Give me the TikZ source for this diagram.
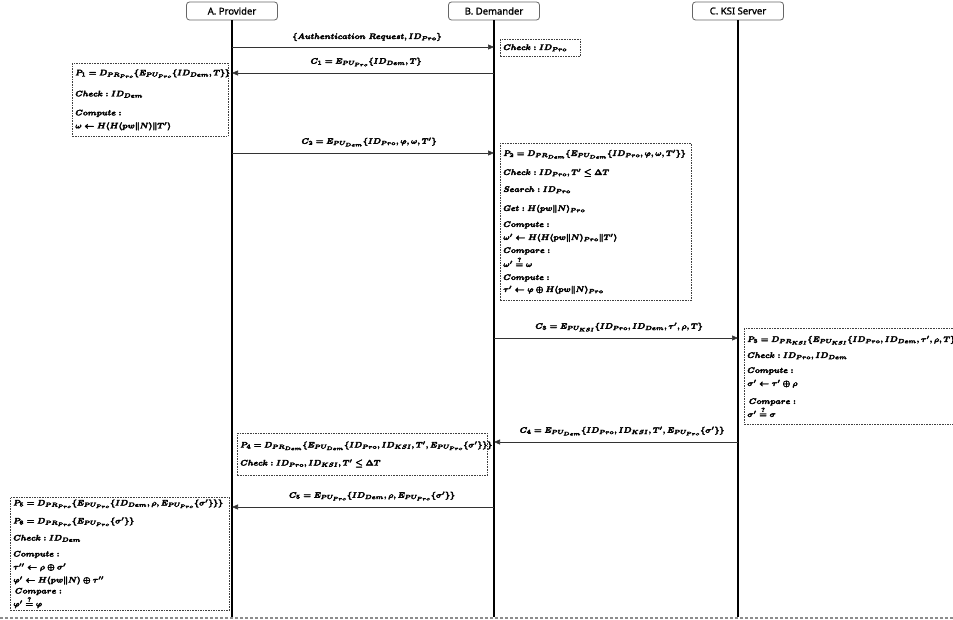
\documentclass[tikz,border=0pt]{standalone}
\usepackage{amsmath,amssymb}
\usepackage{fontspec}
\newfontfamily\hdrfont{Noto Sans}
\usetikzlibrary{arrows.meta}

% heavier glyphs: fill and stroke the text outlines
\newcommand{\heavytext}{\special{pdf:literal direct 2 Tr 0.3 w 0 G}}
\newcommand{\lighttext}{\special{pdf:literal direct 2 Tr 0.12 w 0 G}}
% fixed line pitch and no line breaks inside the step boxes
\newcommand{\stepfont}{\heavytext\fontsize{8.5}{13}\selectfont\boldmath\setlength{\lineskiplimit}{-20pt}\setlength{\lineskip}{0pt}\relpenalty=10000\binoppenalty=10000}

\tikzset{
  header/.style={draw=black!60, line width=0.8pt, rounded corners=3pt, fill=white,
    font=\lighttext\hdrfont\fontsize{9.5}{11}\selectfont, minimum width=91pt, minimum height=18pt, inner sep=2pt},
  life/.style={line width=1.1pt},
  msg/.style={draw=black!80, line width=0.6pt, -{Triangle[length=6pt,width=5pt]}},
  lbl/.style={font=\heavytext\fontsize{8.5}{11}\selectfont\boldmath, inner sep=1pt},
  proc/.style={draw=black!75, line width=0.7pt, dash pattern=on 1.6pt off 1pt,
    align=left, anchor=north west, inner xsep=3pt, inner ysep=2pt, font=\stepfont},
  sep/.style={draw=black!45, line width=1.4pt, dash pattern=on 3pt off 2pt}
}

\begin{document}
\begin{tikzpicture}[x=1pt, y=-1pt]
\clip (0,0) rectangle (953,620);

% participants
\node[header] (hA) at (232,11) {A. Provider};
\node[header] (hB) at (494,11) {B. Demander};
\node[header] (hC) at (738,11) {C. KSI Server};

% lifeline ends and bottom separator
\coordinate (eA) at (232,617);
\coordinate (eB) at (494,617);
\coordinate (eC) at (738,617);
\coordinate (s0) at (0,618);
\coordinate (s1) at (953,618);
\draw[sep] (s0) -- (s1);
\draw[life] (hA.south) -- (eA);
\draw[life] (hB.south) -- (eB);
\draw[life] (hC.south) -- (eC);

% message end points on the lifelines
\coordinate (m1a) at (232,47);  \coordinate (m1b) at (494,47);
\coordinate (m2a) at (494,73);  \coordinate (m2b) at (232,73);
\coordinate (m3a) at (232,153); \coordinate (m3b) at (494,153);
\coordinate (m4a) at (494,338); \coordinate (m4b) at (738,338);
\coordinate (m5a) at (738,442); \coordinate (m5b) at (494,442);
\coordinate (m6a) at (494,507); \coordinate (m6b) at (232,507);

\draw[msg] (m1a) -- (m1b);
\draw[msg] (m2a) -- (m2b);
\draw[msg] (m3a) -- (m3b);
\draw[msg] (m4a) -- (m4b);
\draw[msg] (m5a) -- (m5b);
\draw[msg] (m6a) -- (m6b);

% message labels
\node[lbl] (l1) at (367,37) {$\{Authentication\ Request, ID_{Pro}\}$};
\node[lbl] (l2) at (366,62) {$C_1 = E_{PU_{Pro}}\{ID_{Dem}, T\}$};
\node[lbl] (l3) at (369,142) {$C_2 = E_{PU_{Dem}}\{ID_{Pro}, \varphi, \omega, T'\}$};
\node[lbl] (l4) at (619,327) {$C_3 = E_{PU_{KSI}}\{ID_{Pro}, ID_{Dem}, \tau', \rho, T\}$};
\node[lbl] (l5) at (622,431) {$C_4 = E_{PU_{Dem}}\{ID_{Pro}, ID_{KSI}, T', E_{PU_{Pro}}\{\sigma'\}\}$};
\node[lbl] (l6) at (372,496) {$C_5 = E_{PU_{Pro}}\{ID_{Dem}, \rho, E_{PU_{Pro}}\{\sigma'\}\}$};

% processing steps
\node[proc, minimum height=17pt, text width=74pt] (chk) at (500,39) {$Check : ID_{Pro}$};

\node[proc, minimum height=73pt, text width=150pt] (p1) at (72,63)
{$P_1 = D_{PR_{Pro}}\{E_{PU_{Pro}}\{ID_{Dem}, T\}\}$\\[8pt]
 $Check : ID_{Dem}$\\[6pt]
 $Compute :$\\
 $\omega \leftarrow H(H(pw\|N)\|T')$};

\node[proc, minimum height=157pt, text width=185pt] (p2) at (500,143)
{$P_2 = D_{PR_{Dem}}\{E_{PU_{Dem}}\{ID_{Pro}, \varphi, \omega, T'\}\}$\\[6pt]
 $Check : ID_{Pro}, T' \le \Delta T$\\[4pt]
 $Search : ID_{Pro}$\\[6pt]
 $Get : H(pw\|N)_{Pro}$\\[3pt]
 $Compute :$\\
 $\omega' \leftarrow H(H(pw\|N)_{Pro}\|T')$\\
 $Compare :$\\[1pt]
 $\omega' \overset{?}{=} \omega$\\
 $Compute :$\\[-1pt]
 $\tau' \leftarrow \varphi \oplus H(pw\|N)_{Pro}$};

\node[proc, minimum height=96pt, text width=240pt] (p3) at (744,328)
{$P_3 = D_{PR_{KSI}}\{E_{PU_{KSI}}\{ID_{Pro}, ID_{Dem}, \tau', \rho, T\}\}$\\[3pt]
 $Check : ID_{Pro}, ID_{Dem}$\\[2pt]
 $Compute :$\\
 $\sigma' \leftarrow \tau' \oplus \rho$\\[5pt]
 $\,Compare :$\\
 $\sigma' \overset{?}{=} \sigma$};

\node[proc, minimum height=42pt, text width=244pt] (p4) at (237,433)
{$P_4 = D_{PR_{Dem}}\{E_{PU_{Dem}}\{ID_{Pro}, ID_{KSI}, T', E_{PU_{Pro}}\{\sigma'\}\}\}$\\[5pt]
 $Check : ID_{Pro}, ID_{KSI}, T' \le \Delta T$};

\node[proc, minimum height=112pt, text width=213pt] (p5) at (10,497)
{$P_5 = D_{PR_{Pro}}\{E_{PU_{Pro}}\{ID_{Dem}, \rho, E_{PU_{Pro}}\{\sigma'\}\}\}$\\[5pt]
 $P_6 = D_{PR_{Pro}}\{E_{PU_{Pro}}\{\sigma'\}\}$\\[4pt]
 $Check : ID_{Dem}$\\[3pt]
 $Compute :$\\
 $\tau'' \leftarrow \rho \oplus \sigma'$\\
 $\varphi' \leftarrow H(pw\|N) \oplus \tau''$\\[-2pt]
 $\,Compare :$\\
 $\varphi' \overset{?}{=} \varphi$};
\end{tikzpicture}
\end{document}
